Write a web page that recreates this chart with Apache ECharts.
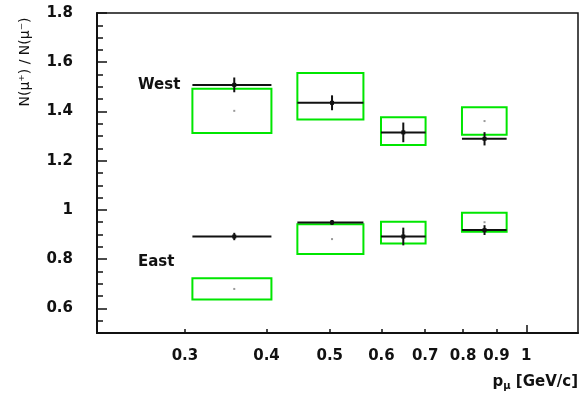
<!DOCTYPE html>
<html>
<head>
<meta charset="utf-8">
<script src="https://cdn.jsdelivr.net/npm/echarts@6/dist/echarts.min.js"></script>
<style>
html,body{margin:0;padding:0;background:#fff;}
#chart{width:580px;height:398px;}
</style>
</head>
<body>
<div id="chart"></div>
<script>
// ---- data (momentum in GeV/c, ratio values) ----
const binLow   = [0.308, 0.446, 0.599, 0.797];
const binHigh  = [0.407, 0.563, 0.701, 0.933];
const pointX   = [0.357, 0.504, 0.648, 0.863];

const westValue   = [1.508, 1.435, 1.315, 1.289];
const westErr     = [0.030, 0.030, 0.040, 0.027];
const westBoxLow  = [1.313, 1.367, 1.264, 1.305];
const westBoxHigh = [1.492, 1.556, 1.376, 1.417];

const eastValue   = [0.892, 0.949, 0.892, 0.918];
const eastErr     = [0.015, 0.010, 0.036, 0.020];
const eastBoxLow  = [0.636, 0.821, 0.864, 0.911];
const eastBoxHigh = [0.722, 0.942, 0.952, 0.989];

const xTickLabels = [0.3, 0.4, 0.5, 0.6, 0.7, 0.8, 0.9, 1];
const xMajorTicks = [1];
const yTickLabels = [0.6, 0.8, 1.0, 1.2, 1.4, 1.6, 1.8];

const regionNames = ['West', 'East'];
const regionX = [0.274, 0.271];
const regionY = [1.507, 0.786];

const xMin = 0.22, xMax = 1.2, yMin = 0.5, yMax = 1.8;

// ---- build ----
const L = Math.log10;
const measureData = [];
const boxData = [];
for (let i = 0; i < binLow.length; i++) {
  measureData.push([L(binLow[i]), L(binHigh[i]), L(pointX[i]), westValue[i], westErr[i]]);
  measureData.push([L(binLow[i]), L(binHigh[i]), L(pointX[i]), eastValue[i], eastErr[i]]);
  boxData.push([L(binLow[i]), L(binHigh[i]), L(pointX[i]), westBoxLow[i], westBoxHigh[i]]);
  boxData.push([L(binLow[i]), L(binHigh[i]), L(pointX[i]), eastBoxLow[i], eastBoxHigh[i]]);
}
const labelData = regionNames.map((n, i) => [L(regionX[i]), regionY[i], i]);

const FONT = 'DejaVu Sans';
const TEXT = '#111';
const labelStyle = { fontFamily: FONT, fontSize: 15, fontWeight: 'bold', color: TEXT };

function fmtX(v) {
  for (const t of xTickLabels) if (Math.abs(L(t) - v) < 1e-6) return String(t);
  return '';
}

const chart = echarts.init(document.getElementById('chart'), null, { renderer: 'canvas' });
chart.setOption({
  animation: false,
  backgroundColor: '#fff',
  grid: { left: 97, right: 2, top: 13, bottom: 65, show: true, borderColor: '#111', borderWidth: 1.5, backgroundColor: 'transparent' },
  xAxis: [
    {
      type: 'value', position: 'bottom', min: L(xMin), max: L(xMax),
      axisLine: { show: true, onZero: false, lineStyle: { color: '#111', width: 2 } },
      axisTick: { show: true, inside: true, length: 4, customValues: xTickLabels.map(L), lineStyle: { color: '#111', width: 1.5 } },
      axisLabel: Object.assign({ show: true, margin: 16, customValues: xTickLabels.map(L), formatter: fmtX }, labelStyle),
      splitLine: { show: false }
    },
    {
      type: 'value', position: 'bottom', min: L(xMin), max: L(xMax),
      axisLine: { show: false, onZero: false },
      axisTick: { show: true, inside: true, length: 8, customValues: xMajorTicks.map(L), lineStyle: { color: '#111', width: 1.5 } },
      axisLabel: { show: false },
      splitLine: { show: false }
    }
  ],
  yAxis: [
    {
      type: 'value', position: 'left', min: yMin, max: yMax,
      axisLine: { show: true, onZero: false, lineStyle: { color: '#111', width: 2 } },
      axisTick: { show: true, inside: true, length: 10, customValues: yTickLabels, lineStyle: { color: '#111', width: 1.5 } },
      axisLabel: Object.assign({ show: true, margin: 24, customValues: yTickLabels, formatter: v => String(+v.toFixed(1)) }, labelStyle),
      splitLine: { show: false }
    },
    {
      type: 'value', position: 'left', min: yMin, max: yMax, interval: 0.05,
      axisLine: { show: false, onZero: false },
      axisTick: { show: true, inside: true, length: 6, lineStyle: { color: '#111', width: 1.5 } },
      axisLabel: { show: false },
      splitLine: { show: false }
    }
  ],
  series: [
    {
      type: 'custom', xAxisIndex: 0, yAxisIndex: 0,
      encode: { x: [0, 1, 2], y: [3, 4] },
      data: boxData,
      renderItem: function (params, api) {
        const a = api.coord([api.value(0), api.value(4)]);
        const b = api.coord([api.value(1), api.value(3)]);
        const c = api.coord([api.value(2), (api.value(3) + api.value(4)) / 2]);
        return {
          type: 'group',
          children: [
            { type: 'rect', shape: { x: a[0], y: a[1], width: b[0] - a[0], height: b[1] - a[1] },
              style: { fill: 'none', stroke: '#00e600', lineWidth: 2 } },
            { type: 'rect', shape: { x: c[0] - 1, y: c[1] - 1, width: 2, height: 2 }, style: { fill: '#999' } }
          ]
        };
      },
      z: 2
    },
    {
      type: 'custom', xAxisIndex: 0, yAxisIndex: 0,
      encode: { x: [0, 1, 2], y: 3 },
      data: measureData,
      renderItem: function (params, api) {
        const v = api.value(3), e = api.value(4);
        const lo = api.coord([api.value(0), v]);
        const hi = api.coord([api.value(1), v]);
        const c = api.coord([api.value(2), v]);
        const t = api.coord([api.value(2), v + e]);
        const b = api.coord([api.value(2), v - e]);
        return {
          type: 'group',
          children: [
            { type: 'line', shape: { x1: lo[0], y1: lo[1], x2: hi[0], y2: hi[1] }, style: { stroke: '#111', lineWidth: 2 } },
            { type: 'line', shape: { x1: c[0], y1: t[1], x2: c[0], y2: b[1] }, style: { stroke: '#111', lineWidth: 2 } },
            { type: 'rect', shape: { x: c[0] - 2, y: c[1] - 2, width: 4, height: 4 }, style: { fill: '#111' } }
          ]
        };
      },
      z: 3
    },
    {
      type: 'custom', xAxisIndex: 0, yAxisIndex: 0,
      encode: { x: 0, y: 1 },
      data: labelData,
      renderItem: function (params, api) {
        const p = api.coord([api.value(0), api.value(1)]);
        return {
          type: 'text', x: p[0], y: p[1],
          style: {
            text: regionNames[api.value(2)],
            fontFamily: FONT, fontSize: 15, fontWeight: 'bold', fill: TEXT,
            align: 'center', verticalAlign: 'middle'
          }
        };
      },
      silent: true, z: 4
    }
  ],
  graphic: [
    {
      type: 'text', x: 25, y: 62, rotation: Math.PI / 2,
      style: {
        text: 'N(\u03bc\u207a) / N(\u03bc\u207b)',
        fontFamily: FONT, fontSize: 14, fill: TEXT,
        textAlign: 'center', textVerticalAlign: 'middle'
      }
    },
    {
      type: 'text', x: 578, y: 382,
      style: {
        text: '{p|p}{m|\u03bc}{p| [GeV/c]}',
        rich: {
          p: { fontFamily: FONT, fontSize: 15, fontWeight: 'bold', fill: TEXT, color: TEXT },
          m: { fontFamily: FONT, fontSize: 10, fontWeight: 'bold', fill: TEXT, color: TEXT, padding: [8, 0, 0, 0] }
        },
        textAlign: 'right', textVerticalAlign: 'middle'
      }
    }
  ]
});
</script>
</body>
</html>
